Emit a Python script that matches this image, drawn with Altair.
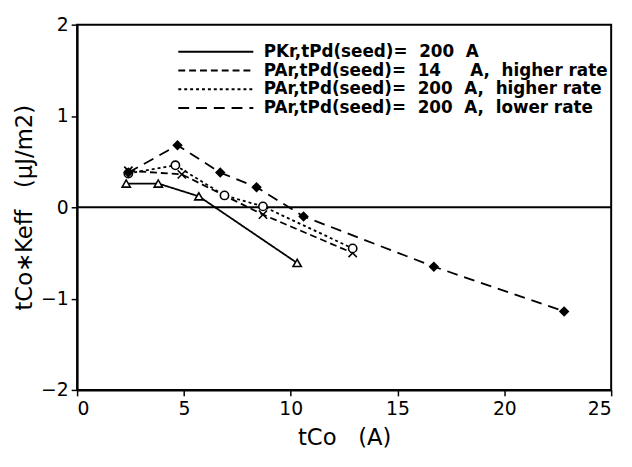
import altair as alt
import pandas as pd

NB = "\u00a0"

series_names = [
    "PKr,tPd(seed)=" + NB * 2 + "200" + NB * 2 + "A",
    "PAr,tPd(seed)=" + NB * 2 + "14" + NB * 5 + "A," + NB * 2 + "higher rate",
    "PAr,tPd(seed)=" + NB * 2 + "200" + NB * 2 + "A," + NB * 2 + "higher rate",
    "PAr,tPd(seed)=" + NB * 2 + "200" + NB * 2 + "A," + NB * 2 + "lower rate",
]

pkr_x = [2.3, 3.8, 5.7, 10.3]
pkr_y = [0.26, 0.26, 0.12, -0.61]

par14_x = [2.4, 4.9, 8.7, 12.9]
par14_y = [0.40, 0.36, -0.08, -0.50]

par200h_x = [2.4, 4.6, 6.9, 8.7, 12.9]
par200h_y = [0.37, 0.46, 0.13, 0.01, -0.45]

par200l_x = [2.4, 4.7, 6.7, 8.4, 10.6, 16.7, 22.8]
par200l_y = [0.38, 0.68, 0.38, 0.22, -0.10, -0.65, -1.14]

x_ticks = [0, 5, 10, 15, 20, 25]
y_ticks = [-2, -1, 0, 1, 2]

rows = []
for name, xs, ys in zip(series_names,
                        [pkr_x, par14_x, par200h_x, par200l_x],
                        [pkr_y, par14_y, par200h_y, par200l_y]):
    for i, (xv, yv) in enumerate(zip(xs, ys)):
        rows.append({"tco": xv, "keff": yv, "series": name, "order": i})
df = pd.DataFrame(rows)

FONT = "DejaVu Sans"

x_enc = alt.X("tco:Q", title="tCo" + NB * 3 + "(A)",
              scale=alt.Scale(domain=[0, 25], nice=False),
              axis=alt.Axis(values=x_ticks, format="d"))
y_enc = alt.Y("keff:Q", title="tCo\u2217Keff" + NB * 3 + "(\u03bcJ/m2)",
              scale=alt.Scale(domain=[-2, 2], nice=False),
              axis=alt.Axis(values=y_ticks, format="d"))

dash_scale = alt.Scale(domain=series_names,
                       range=[[1, 0], [7, 4], [3, 3], [11, 7]])

lines = alt.Chart(df).mark_line(color="black", strokeWidth=1.8).encode(
    x=x_enc, y=y_enc,
    strokeDash=alt.StrokeDash("series:N", scale=dash_scale,
                              legend=alt.Legend(title=None, orient="none",
                                                legendX=98, legendY=19,
                                                columns=1, gridAlign="all",
                                                symbolType="M-1,0L18,0",
                                                symbolSize=64,
                                                symbolStrokeWidth=2,
                                                symbolStrokeColor="black",
                                                labelOffset=74,
                                                labelAlign="left",
                                                labelFont=FONT,
                                                labelFontSize=17,
                                                labelFontWeight="bold",
                                                labelColor="black",
                                                labelLimit=500,
                                                rowPadding=1)),
    order="order:Q",
)

points = alt.Chart(df).mark_point(filled=True, stroke="black",
                                  strokeWidth=1.6, size=70, opacity=1).encode(
    x="tco:Q", y="keff:Q",
    shape=alt.Shape("series:N",
                    scale=alt.Scale(domain=series_names,
                                    range=["triangle-up",
                                           "M-1,-1L1,1M-1,1L1,-1",
                                           "circle", "diamond"]),
                    legend=None),
    fill=alt.Fill("series:N",
                  scale=alt.Scale(domain=series_names,
                                  range=["white", "white", "white", "black"]),
                  legend=None),
)

zero = alt.Chart(pd.DataFrame({"z": [0]})).mark_rule(
    color="black", strokeWidth=2).encode(y="z:Q")

chart = alt.layer(zero, lines, points).resolve_scale(
    shape="independent", fill="independent", strokeDash="independent"
).properties(
    width=541, height=370,
    autosize=alt.AutoSizeParams(type="none"),
    padding={"left": 70, "top": 14, "right": 13, "bottom": 60},
).configure_view(
    stroke="black", strokeWidth=2
).configure_axis(
    grid=False, domainColor="black", domainWidth=2,
    tickColor="black", tickWidth=1.5, tickSize=6,
    labelFont=FONT, labelFontSize=19, labelColor="black",
    titleFont=FONT, titleFontSize=23, titleFontWeight="normal",
    titleColor="black",
).configure_axisY(
    labelPadding=3, titlePadding=4
).configure_axisX(
    labelPadding=4, titlePadding=8
)

chart.save("out.html", embed_options={"renderer": "svg", "actions": False})
